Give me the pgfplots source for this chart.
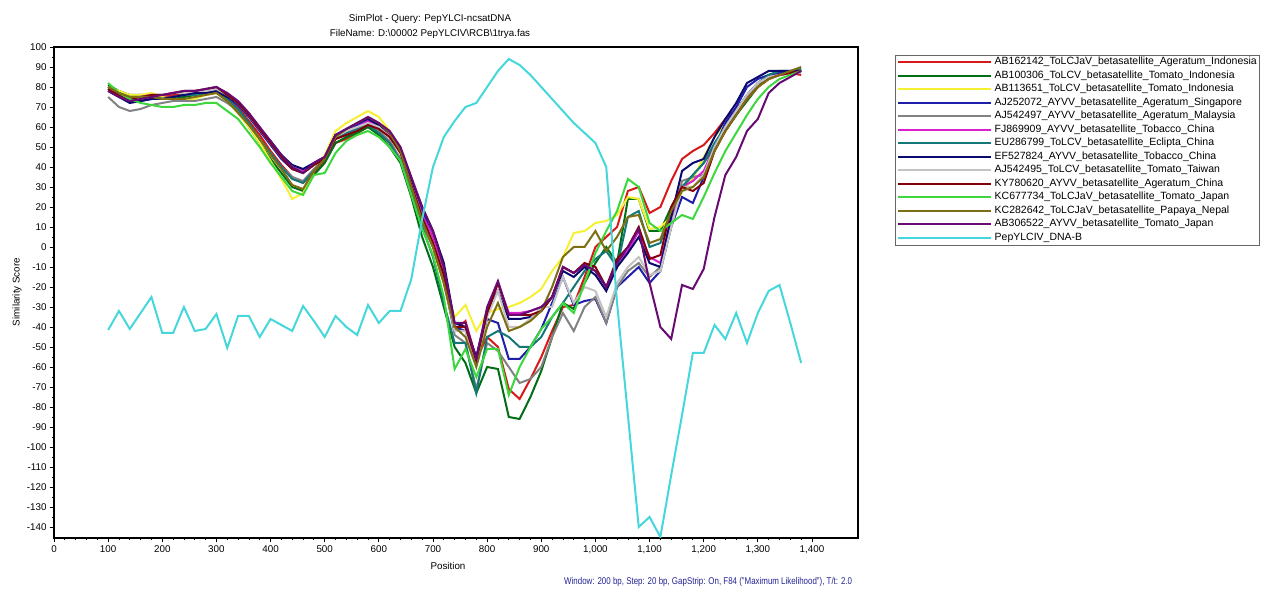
\documentclass[border=0pt]{standalone}
\usepackage{pgfplots}
\pgfplotsset{compat=1.18}
\usepackage{fontspec}
\setmainfont{Liberation Sans}
\definecolor{cRed}{RGB}{215,25,25}
\definecolor{cDkGreen}{RGB}{0,110,20}
\definecolor{cYellow}{RGB}{245,240,50}
\definecolor{cBlue}{RGB}{30,30,170}
\definecolor{cGray}{RGB}{130,130,130}
\definecolor{cMagenta}{RGB}{220,30,210}
\definecolor{cTeal}{RGB}{20,120,120}
\definecolor{cNavy}{RGB}{10,10,110}
\definecolor{cLtGray}{RGB}{195,195,195}
\definecolor{cDkRed}{RGB}{130,0,10}
\definecolor{cGreen}{RGB}{60,215,60}
\definecolor{cOlive}{RGB}{125,110,20}
\definecolor{cPurple}{RGB}{105,10,115}
\definecolor{cCyan}{RGB}{70,215,220}
\definecolor{cFoot}{RGB}{35,35,150}
\begin{document}
\begin{tikzpicture}
\useasboundingbox (-54pt,-53pt) rectangle (1207pt,538pt);
\begin{axis}[
  scale only axis, width=804pt, height=491pt,
  xmin=0, xmax=1485, ymin=-145.5, ymax=100,
  xtick={0,100,...,1400}, ytick={-140,-130,...,100},
  minor x tick num=4, minor y tick num=1,
  tick align=outside, tick pos=left,
  major tick length=4pt, minor tick length=2pt,
  tick style={black, line width=0.8pt},
  ticklabel style={font=\fontsize{9.8}{11}\selectfont},
  /pgf/number format/assume math mode=true,
  axis line style={line width=1.2pt},
  every axis plot/.append style={line width=2pt},
  legend cell align=left,
  legend style={at={(rel axis cs:1.046,0.9837)}, anchor=north west,
    draw=black!60, line width=0.8pt, inner sep=2pt,
    font=\fontsize{10.5}{12}\selectfont, row sep=3.4pt,
    nodes={inner sep=0.3pt, text height=7.3pt, text depth=2.2pt},
    /tikz/every odd column/.append style={column sep=2pt}},
  legend image code/.code={\draw[#1] (0pt,0pt) -- (93pt,0pt);},
]
\addplot[cRed] coordinates {(100,80)(120,77)(140,75)(160,76)(180,76)(200,75)(220,76)(240,77)(260,78)(280,78)(300,79)(320,75)(340,70)(360,63)(380,56)(400,48)(420,41)(440,35)(460,32)(480,37)(500,43)(520,52)(540,54)(560,57)(580,60)(600,57)(620,52)(640,44)(660,28)(680,12)(700,0)(720,-18)(740,-42)(760,-37)(780,-56)(800,-45)(820,-50)(840,-71)(860,-76)(880,-66)(900,-55)(920,-42)(940,-30)(960,-29)(980,-15)(1000,0)(1020,5)(1040,10)(1060,28)(1080,30)(1100,17)(1120,20)(1140,33)(1160,44)(1180,48)(1200,51)(1220,57)(1240,64)(1260,69)(1280,75)(1300,80)(1320,84)(1340,86)(1360,87)(1380,86)};
\addlegendentry{AB162142\_ToLCJaV\_betasatellite\_Ageratum\_Indonesia}
\addplot[cDkGreen] coordinates {(100,81)(120,78)(140,76)(160,76)(180,75)(200,74)(220,74)(240,75)(260,76)(280,77)(300,78)(320,74)(340,68)(360,60)(380,52)(400,44)(420,37)(440,30)(460,28)(480,36)(500,42)(520,52)(540,55)(560,57)(580,60)(600,56)(620,50)(640,42)(660,25)(680,5)(700,-10)(720,-30)(740,-50)(760,-58)(780,-73)(800,-60)(820,-61)(840,-85)(860,-86)(880,-75)(900,-62)(920,-45)(940,-28)(960,-31)(980,-18)(1000,-8)(1020,0)(1040,-8)(1060,24)(1080,24)(1100,8)(1120,8)(1140,20)(1160,30)(1180,36)(1200,42)(1220,50)(1240,58)(1260,66)(1280,73)(1300,80)(1320,86)(1340,88)(1360,87)(1380,88)};
\addlegendentry{AB100306\_ToLCV\_betasatellite\_Tomato\_Indonesia}
\addplot[cYellow] coordinates {(100,80)(120,78)(140,76)(160,76)(180,77)(200,75)(220,74)(240,73)(260,74)(280,76)(300,77)(320,73)(340,67)(360,60)(380,52)(400,43)(420,34)(440,24)(460,27)(480,38)(500,46)(520,58)(540,62)(560,65)(580,68)(600,65)(620,58)(640,48)(660,32)(680,16)(700,3)(720,-16)(740,-35)(760,-29)(780,-42)(800,-33)(820,-31)(840,-30)(860,-28)(880,-25)(900,-21)(920,-12)(940,-5)(960,7)(980,8)(1000,12)(1020,13)(1040,16)(1060,25)(1080,24)(1100,9)(1120,10)(1140,15)(1160,28)(1180,34)(1200,45)(1220,55)(1240,62)(1260,68)(1280,74)(1300,80)(1320,84)(1340,86)(1360,87)(1380,89)};
\addlegendentry{AB113651\_ToLCV\_betasatellite\_Tomato\_Indonesia}
\addplot[cBlue] coordinates {(100,79)(120,76)(140,73)(160,73)(180,74)(200,74)(220,75)(240,76)(260,77)(280,77)(300,78)(320,75)(340,71)(360,65)(380,58)(400,51)(420,44)(440,39)(460,37)(480,41)(500,45)(520,56)(540,58)(560,61)(580,63)(600,60)(620,56)(640,48)(660,33)(680,18)(700,5)(720,-10)(740,-40)(760,-42)(780,-55)(800,-36)(820,-38)(840,-56)(860,-56)(880,-50)(900,-41)(920,-28)(940,-15)(960,-29)(980,-27)(1000,-26)(1020,-38)(1040,-20)(1060,-15)(1080,-10)(1100,-18)(1120,-12)(1140,10)(1160,25)(1180,22)(1200,35)(1220,50)(1240,62)(1260,70)(1280,80)(1300,84)(1320,86)(1340,87)(1360,87)(1380,88)};
\addlegendentry{AJ252072\_AYVV\_betasatellite\_Ageratum\_Singapore}
\addplot[cGray] coordinates {(100,75)(120,70)(140,68)(160,69)(180,71)(200,72)(220,73)(240,73)(260,73)(280,74)(300,75)(320,72)(340,68)(360,61)(380,54)(400,47)(420,40)(440,35)(460,33)(480,39)(500,44)(520,54)(540,57)(560,59)(580,62)(600,58)(620,53)(640,44)(660,29)(680,12)(700,0)(720,-16)(740,-44)(760,-48)(780,-71)(800,-48)(820,-52)(840,-60)(860,-68)(880,-66)(900,-60)(920,-45)(940,-33)(960,-42)(980,-30)(1000,-25)(1020,-38)(1040,-20)(1060,-12)(1080,-8)(1100,-15)(1120,-10)(1140,10)(1160,33)(1180,35)(1200,36)(1220,50)(1240,60)(1260,68)(1280,76)(1300,82)(1320,85)(1340,86)(1360,87)(1380,88)};
\addlegendentry{AJ542497\_AYVV\_betasatellite\_Ageratum\_Malaysia}
\addplot[cMagenta] coordinates {(100,79)(120,76)(140,74)(160,75)(180,76)(200,76)(220,77)(240,77)(260,78)(280,78)(300,79)(320,76)(340,72)(360,66)(380,59)(400,52)(420,46)(440,40)(460,38)(480,42)(500,45)(520,56)(540,58)(560,60)(580,63)(600,60)(620,56)(640,48)(660,32)(680,16)(700,5)(720,-12)(740,-40)(760,-40)(780,-55)(800,-33)(820,-18)(840,-33)(860,-33)(880,-32)(900,-30)(920,-25)(940,-10)(960,-13)(980,-9)(1000,-12)(1020,-20)(1040,-8)(1060,-2)(1080,8)(1100,-5)(1120,-8)(1140,15)(1160,30)(1180,33)(1200,38)(1220,50)(1240,60)(1260,68)(1280,76)(1300,82)(1320,85)(1340,86)(1360,87)(1380,88)};
\addlegendentry{FJ869909\_AYVV\_betasatellite\_Tobacco\_China}
\addplot[cTeal] coordinates {(100,80)(120,77)(140,75)(160,75)(180,75)(200,74)(220,75)(240,76)(260,76)(280,77)(300,78)(320,74)(340,69)(360,62)(380,54)(400,47)(420,40)(440,34)(460,32)(480,38)(500,44)(520,54)(540,57)(560,59)(580,61)(600,57)(620,52)(640,43)(660,27)(680,10)(700,-5)(720,-28)(740,-48)(760,-48)(780,-73)(800,-45)(820,-42)(840,-45)(860,-50)(880,-50)(900,-45)(920,-35)(940,-28)(960,-20)(980,-12)(1000,-6)(1020,-2)(1040,-10)(1060,15)(1080,18)(1100,0)(1120,2)(1140,18)(1160,30)(1180,36)(1200,42)(1220,52)(1240,60)(1260,68)(1280,76)(1300,82)(1320,86)(1340,88)(1360,88)(1380,89)};
\addlegendentry{EU286799\_ToLCV\_betasatellite\_Eclipta\_China}
\addplot[cNavy] coordinates {(100,78)(120,75)(140,72)(160,73)(180,74)(200,74)(220,75)(240,76)(260,77)(280,77)(300,78)(320,75)(340,72)(360,66)(380,59)(400,53)(420,46)(440,41)(460,39)(480,42)(500,45)(520,56)(540,59)(560,62)(580,64)(600,61)(620,57)(640,49)(660,34)(680,20)(700,8)(720,-8)(740,-38)(760,-40)(780,-55)(800,-32)(820,-22)(840,-36)(860,-36)(880,-35)(900,-32)(920,-25)(940,-12)(960,-15)(980,-10)(1000,-14)(1020,-22)(1040,-10)(1060,-3)(1080,5)(1100,-8)(1120,-10)(1140,15)(1160,38)(1180,42)(1200,44)(1220,55)(1240,64)(1260,72)(1280,82)(1300,85)(1320,88)(1340,88)(1360,88)(1380,88)};
\addlegendentry{EF527824\_AYVV\_betasatellite\_Tobacco\_China}
\addplot[cLtGray] coordinates {(100,79)(120,76)(140,74)(160,75)(180,76)(200,76)(220,77)(240,77)(260,78)(280,78)(300,79)(320,76)(340,72)(360,66)(380,59)(400,52)(420,45)(440,40)(460,37)(480,41)(500,45)(520,55)(540,58)(560,60)(580,62)(600,60)(620,55)(640,47)(660,31)(680,15)(700,2)(720,-14)(740,-42)(760,-42)(780,-58)(800,-35)(820,-22)(840,-40)(860,-40)(880,-36)(900,-30)(920,-30)(940,-15)(960,-28)(980,-20)(1000,-22)(1020,-35)(1040,-18)(1060,-10)(1080,-5)(1100,-14)(1120,-12)(1140,10)(1160,30)(1180,30)(1200,36)(1220,50)(1240,60)(1260,68)(1280,76)(1300,82)(1320,85)(1340,86)(1360,87)(1380,87)};
\addlegendentry{AJ542495\_ToLCV\_betasatellite\_Tomato\_Taiwan}
\addplot[cDkRed] coordinates {(100,79)(120,76)(140,74)(160,75)(180,76)(200,76)(220,77)(240,78)(260,78)(280,79)(300,80)(320,76)(340,72)(360,66)(380,59)(400,52)(420,45)(440,39)(460,37)(480,41)(500,44)(520,54)(540,56)(560,58)(580,61)(600,59)(620,55)(640,47)(660,31)(680,15)(700,2)(720,-14)(740,-40)(760,-40)(780,-57)(800,-33)(820,-18)(840,-34)(860,-34)(880,-34)(900,-32)(920,-25)(940,-10)(960,-13)(980,-8)(1000,-10)(1020,-20)(1040,-6)(1060,0)(1080,10)(1100,-6)(1120,-4)(1140,20)(1160,30)(1180,28)(1200,32)(1220,48)(1240,58)(1260,66)(1280,74)(1300,80)(1320,84)(1340,86)(1360,87)(1380,88)};
\addlegendentry{KY780620\_AYVV\_betasatellite\_Ageratum\_China}
\addplot[cGreen] coordinates {(100,82)(120,77)(140,74)(160,72)(180,71)(200,70)(220,70)(240,71)(260,71)(280,72)(300,72)(320,68)(340,64)(360,57)(380,50)(400,42)(420,35)(440,28)(460,26)(480,36)(500,37)(520,47)(540,53)(560,56)(580,58)(600,55)(620,50)(640,43)(660,26)(680,9)(700,-4)(720,-25)(740,-61)(760,-51)(780,-65)(800,-51)(820,-51)(840,-74)(860,-60)(880,-50)(900,-41)(920,-35)(940,-28)(960,-33)(980,-18)(1000,-3)(1020,8)(1040,18)(1060,34)(1080,30)(1100,12)(1120,8)(1140,12)(1160,16)(1180,14)(1200,25)(1220,37)(1240,48)(1260,57)(1280,66)(1300,74)(1320,80)(1340,84)(1360,86)(1380,88)};
\addlegendentry{KC677734\_ToLCJaV\_betasatellite\_Tomato\_Japan}
\addplot[cOlive] coordinates {(100,80)(120,77)(140,75)(160,75)(180,75)(200,74)(220,74)(240,74)(260,75)(280,76)(300,77)(320,73)(340,67)(360,61)(380,54)(400,46)(420,39)(440,31)(460,29)(480,38)(500,44)(520,55)(540,59)(560,62)(580,65)(600,62)(620,57)(640,48)(660,30)(680,13)(700,0)(720,-18)(740,-40)(760,-45)(780,-60)(800,-40)(820,-28)(840,-42)(860,-40)(880,-37)(900,-32)(920,-20)(940,-5)(960,0)(980,0)(1000,8)(1020,-2)(1040,5)(1060,15)(1080,16)(1100,2)(1120,4)(1140,18)(1160,28)(1180,30)(1200,35)(1220,48)(1240,58)(1260,66)(1280,74)(1300,80)(1320,84)(1340,86)(1360,88)(1380,90)};
\addlegendentry{KC282642\_ToLCJaV\_betasatellite\_Papaya\_Nepal}
\addplot[cPurple] coordinates {(100,78)(120,75)(140,73)(160,74)(180,75)(200,76)(220,77)(240,78)(260,78)(280,79)(300,80)(320,77)(340,73)(360,67)(380,60)(400,53)(420,46)(440,40)(460,37)(480,42)(500,45)(520,56)(540,59)(560,62)(580,65)(600,62)(620,58)(640,50)(660,35)(680,20)(700,8)(720,-10)(740,-38)(760,-38)(780,-56)(800,-30)(820,-17)(840,-34)(860,-34)(880,-32)(900,-30)(920,-25)(940,-10)(960,-13)(980,-9)(1000,-12)(1020,-20)(1040,-8)(1060,0)(1080,9)(1100,-18)(1120,-40)(1140,-46)(1160,-19)(1180,-21)(1200,-11)(1220,15)(1240,36)(1260,45)(1280,58)(1300,64)(1320,77)(1340,82)(1360,85)(1380,88)};
\addlegendentry{AB306522\_AYVV\_betasatellite\_Tomato\_Japan}
\addplot[cCyan] coordinates {(100,-41.5)(120,-32)(140,-41)(160,-33)(180,-25)(200,-43)(220,-43)(240,-30)(260,-42)(280,-41)(300,-33.5)(320,-50.5)(340,-34.5)(360,-34.5)(380,-45)(400,-36)(420,-39)(440,-42)(460,-29.5)(480,-37)(500,-45)(520,-34.5)(540,-40)(560,-44)(580,-29)(600,-38)(620,-32)(640,-32)(660,-16)(680,14)(700,40)(720,55)(740,63)(760,70)(780,72)(800,80)(820,88)(840,94)(860,91)(880,86)(900,80)(920,74)(940,68)(960,62)(980,57)(1000,52)(1020,40)(1040,-28)(1060,-84)(1080,-140)(1100,-135)(1120,-145)(1140,-114)(1160,-84)(1180,-53)(1200,-53)(1220,-39)(1240,-46)(1260,-33)(1280,-48)(1300,-33)(1320,-22)(1340,-19)(1360,-38)(1380,-58)};
\addlegendentry{PepYLCIV\_DNA-B}
\end{axis}
\node[font=\fontsize{9.8}{11}\selectfont] at (376pt,519pt) {SimPlot - Query: PepYLCI-ncsatDNA};
\node[font=\fontsize{9.8}{11}\selectfont] at (376pt,504pt) {FileName: D:\textbackslash 00002 PepYLCIV\textbackslash RCB\textbackslash 1trya.fas};
\node[font=\fontsize{9.8}{11}\selectfont, rotate=90] at (-37pt,246pt) {Similarity Score};
\node[font=\fontsize{9.8}{11}\selectfont] at (394pt,-28pt) {Position};
\node[font=\fontsize{9.8}{11}\selectfont, text=cFoot, anchor=east, xscale=0.81] at (801pt,-44pt) {Window: 200 bp, Step: 20 bp, GapStrip: On, F84 ("Maximum Likelihood"), T/t: 2.0};
\end{tikzpicture}
\end{document}
